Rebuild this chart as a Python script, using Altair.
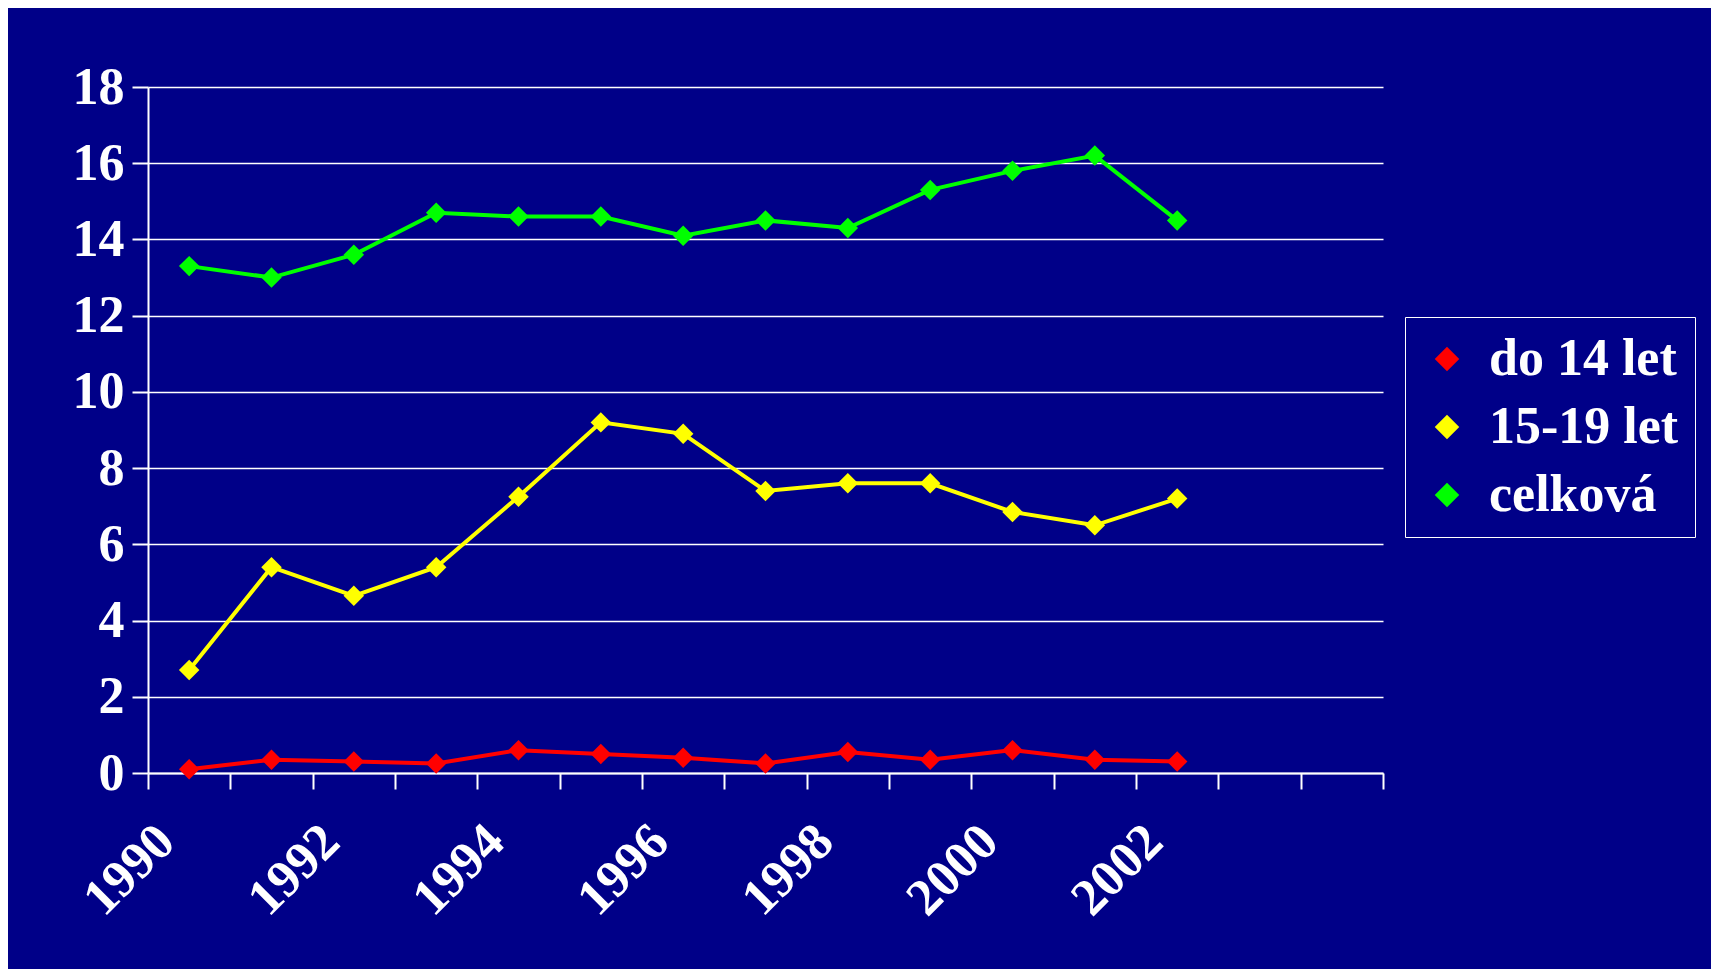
import altair as alt, pandas as pd

years = list(range(1990, 2003))
do14 = [0.1, 0.35, 0.3, 0.25, 0.6, 0.5, 0.4, 0.25, 0.55, 0.35, 0.6, 0.35, 0.3]
let1519 = [2.7, 5.4, 4.65, 5.4, 7.25, 9.2, 8.9, 7.4, 7.6, 7.6, 6.85, 6.5, 7.2]
celkova = [13.3, 13.0, 13.6, 14.7, 14.6, 14.6, 14.1, 14.5, 14.3, 15.3, 15.8, 16.2, 14.5]
series = ["do 14 let", "15-19 let", "celková"]
colors = ["#FF0000", "#FFFF00", "#00FF00"]

rows = []
for name, vals in zip(series, [do14, let1519, celkova]):
    for y, v in zip(years, vals):
        rows.append({"rok": y + 0.5, "hodnota": v, "serie": name})
df = pd.DataFrame(rows)

font = "Liberation Serif"
base = alt.Chart(df).encode(
    x=alt.X("rok:Q", scale=alt.Scale(domain=[1990, 2005], nice=False),
            axis=alt.Axis(values=list(range(1990, 2006)), grid=False, title=None,
                          labelExpr="datum.value % 2 == 0 && datum.value <= 2002 ? datum.value : ''",
                          labelAngle=-45, labelAlign="right", labelBaseline="top",
                          tickSize=16, labelPadding=26, format="d")),
    y=alt.Y("hodnota:Q", scale=alt.Scale(domain=[0, 18], nice=False),
            axis=alt.Axis(values=list(range(0, 19, 2)), title=None, grid=True,
                          tickSize=16, labelPadding=8)),
    color=alt.Color("serie:N", sort=series,
                    scale=alt.Scale(domain=series, range=colors),
                    legend=alt.Legend(title=None, orient="none", legendX=1257, legendY=230,
                                      symbolType="diamond", symbolSize=600, symbolStrokeWidth=0,
                                      labelFontSize=52, labelFont=font, labelColor="white",
                                      labelFontWeight="bold", rowPadding=16, labelOffset=16,
                                      strokeColor="white", padding=16,
                                      labelLimit=400)),
)
chart = (base.mark_line(strokeWidth=4) +
         base.mark_point(shape="diamond", filled=True, size=420, opacity=1)).properties(
    width=1235, height=686,
    autosize=alt.AutoSizeParams(type="none"),
    padding={"left": 140, "top": 79, "right": 328, "bottom": 196},
    background="#000088",
).configure_view(stroke=None).configure_axis(
    domainColor="white", tickColor="white", gridColor="white",
    domainWidth=2, tickWidth=2, gridWidth=1.5,
    labelColor="white", labelFont=font, labelFontSize=52, labelFontWeight="bold",
)

chart.save("out.html", embed_options={"renderer": "svg", "actions": False})
